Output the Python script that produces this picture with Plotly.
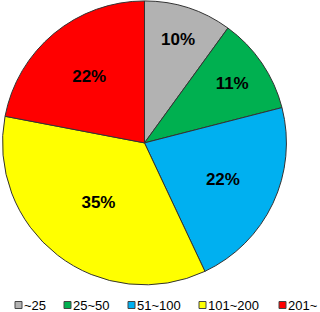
import plotly.graph_objects as go

labels = ["~25", "25~50", "51~100", "101~200", "201~"]
values = [10, 11, 22, 35, 22]
colors = ["#B2B2B2", "#00B050", "#00B0F0", "#FFFF00", "#FF0000"]

# legend layout (pixel x of each square's left edge)
W, H = 320, 312
leg_x = [15, 64, 128, 199, 279]
leg_y = 305  # center, px from top

fig = go.Figure(go.Pie(
    labels=labels, values=values, sort=False, direction="clockwise", rotation=0,
    marker=dict(colors=colors, line=dict(color="#333333", width=1)),
    texttemplate="<b>%{value}%</b>", textposition="inside", insidetextorientation="horizontal",
    textfont=dict(family="Arial, Liberation Sans", size=17, color="black"),
    domain=dict(x=[0.003, 0.9], y=[0.087, 0.997]),
    showlegend=False,
))

for lab, col, x in zip(labels, colors, leg_x):
    fig.add_shape(type="rect", xref="paper", yref="paper",
                  x0=x / W, x1=(x + 7) / W,
                  y0=1 - (leg_y + 3.5) / H, y1=1 - (leg_y - 3.5) / H,
                  fillcolor=col, line=dict(color="#444444", width=1))
    fig.add_annotation(text=lab, xref="paper", yref="paper",
                       x=(x + 8) / W, y=1 - leg_y / H, xanchor="left", yanchor="middle",
                       showarrow=False, borderpad=0,
                       font=dict(family="Arial, Liberation Sans", size=13, color="black"))

fig.update_layout(
    width=W, height=H, margin=dict(l=0, r=0, t=0, b=0),
    paper_bgcolor="white",
    uniformtext=dict(minsize=10, mode="show"),
)
fig.write_html("out.html")
